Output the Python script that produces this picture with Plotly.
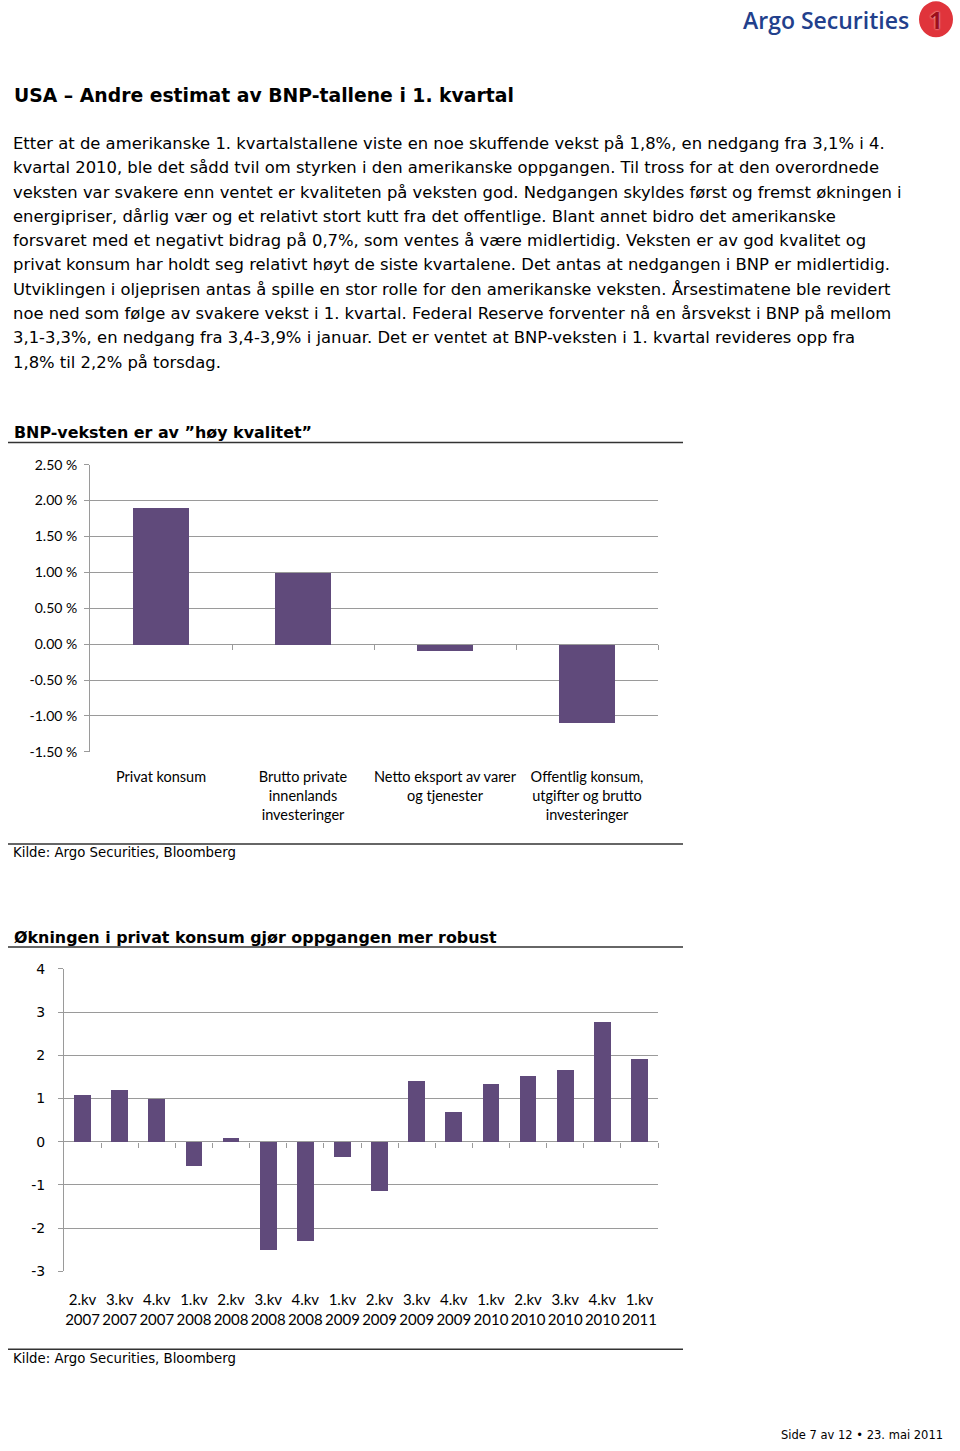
import plotly.graph_objects as go

W, H = 960, 1451

# --- data ---------------------------------------------------------------
komponenter = [
    "Privat konsum",
    "Brutto private<br>innenlands<br>investeringer",
    "Netto eksport av varer<br>og tjenester",
    "Offentlig konsum,<br>utgifter og brutto<br>investeringer",
]
bidrag = [1.90, 1.00, -0.09, -1.10]
bidrag_tickvals = [2.5, 2.0, 1.5, 1.0, 0.5, 0.0, -0.5, -1.0, -1.5]
bidrag_ticktext = ["2.50 %", "2.00 %", "1.50 %", "1.00 %", "0.50 %",
                   "0.00 %", "-0.50 %", "-1.00 %", "-1.50 %"]

kvartaler = [
    "2.kv<br>2007", "3.kv<br>2007", "4.kv<br>2007", "1.kv<br>2008",
    "2.kv<br>2008", "3.kv<br>2008", "4.kv<br>2008", "1.kv<br>2009",
    "2.kv<br>2009", "3.kv<br>2009", "4.kv<br>2009", "1.kv<br>2010",
    "2.kv<br>2010", "3.kv<br>2010", "4.kv<br>2010", "1.kv<br>2011",
]
konsum = [1.08, 1.20, 0.98, -0.56, 0.08, -2.50, -2.30, -0.36,
          -1.14, 1.40, 0.69, 1.33, 1.53, 1.66, 2.78, 1.91]
konsum_tickvals = [4, 3, 2, 1, 0, -1, -2, -3]
konsum_ticktext = ["4", "3", "2", "1", "0", "-1", "-2", "-3"]

tittel = "USA – Andre estimat av BNP-tallene i 1. kvartal"
brodtekst = [
    "Etter at de amerikanske 1. kvartalstallene viste en noe skuffende vekst på 1,8%, en nedgang fra 3,1% i 4.",
    "kvartal 2010, ble det sådd tvil om styrken i den amerikanske oppgangen. Til tross for at den overordnede",
    "veksten var svakere enn ventet er kvaliteten på veksten god. Nedgangen skyldes først og fremst økningen i",
    "energipriser, dårlig vær og et relativt stort kutt fra det offentlige. Blant annet bidro det amerikanske",
    "forsvaret med et negativt bidrag på 0,7%, som ventes å være midlertidig. Veksten er av god kvalitet og",
    "privat konsum har holdt seg relativt høyt de siste kvartalene. Det antas at nedgangen i BNP er midlertidig.",
    "Utviklingen i oljeprisen antas å spille en stor rolle for den amerikanske veksten. Årsestimatene ble revidert",
    "noe ned som følge av svakere vekst i 1. kvartal. Federal Reserve forventer nå en årsvekst i BNP på mellom",
    "3,1-3,3%, en nedgang fra 3,4-3,9% i januar. Det er ventet at BNP-veksten i 1. kvartal revideres opp fra",
    "1,8% til 2,2% på torsdag.",
]
kilde = "Kilde: Argo Securities, Bloomberg"

BAR = "#604a7b"
GRID = "#9a9a9a"
NARROW = "Liberation Sans Narrow, Lato, sans-serif"
VERDANA = "DejaVu Sans, Verdana, sans-serif"

# the photographed page comes out slightly squeezed vertically;
# these undo it so the layout lands on the page positions
Y0, KY = 8.7, 0.9876


def px(x):
    return x / W


def py(y):
    return 1 - ((y - Y0) / KY) / H


def zero_pos(dom, rng):
    return dom[0] + (0 - rng[0]) / (rng[1] - rng[0]) * (dom[1] - dom[0])


dom1_x = [px(90), px(658)]
dom1_y = [py(751), py(464)]
rng1 = [-1.5, 2.5]
dom2_x = [px(64), px(658)]
dom2_y = [py(1270), py(968)]
rng2 = [-3, 4]

fig = go.Figure()

fig.add_trace(go.Bar(x=list(range(len(bidrag))), y=bidrag, width=0.4,
                     marker=dict(color=BAR, line=dict(width=0)),
                     xaxis="x", yaxis="y", showlegend=False))
fig.add_trace(go.Bar(x=list(range(len(konsum))), y=konsum, width=0.45,
                     marker=dict(color=BAR, line=dict(width=0)),
                     xaxis="x2", yaxis="y2", showlegend=False))
# empty traces so the zero-line tick axes get drawn
fig.add_trace(go.Scatter(x=[], y=[], xaxis="x3", yaxis="y", showlegend=False))
fig.add_trace(go.Scatter(x=[], y=[], xaxis="x4", yaxis="y2", showlegend=False))

fig.update_layout(
    width=W, height=H,
    margin=dict(l=0, r=0, t=0, b=0),
    paper_bgcolor="white", plot_bgcolor="white",
    bargap=0,
    xaxis=dict(domain=dom1_x, anchor="y", range=[-0.5, len(bidrag) - 0.5],
               tickvals=list(range(len(bidrag))), ticktext=komponenter,
               showgrid=False, zeroline=False, showline=False, ticks="",
               ticklabelstandoff=15,
               tickfont=dict(family=NARROW, size=14.5, color="#000")),
    yaxis=dict(domain=dom1_y, anchor="x", range=rng1,
               tickvals=bidrag_tickvals, ticktext=bidrag_ticktext,
               showgrid=True, gridcolor=GRID, gridwidth=1,
               zeroline=False, showline=True, linecolor=GRID, linewidth=1,
               ticks="outside", ticklen=5, tickcolor=GRID,
               ticklabelstandoff=4,
               tickfont=dict(family=NARROW, size=14, color="#000")),
    xaxis3=dict(overlaying="x", anchor="free", position=zero_pos(dom1_y, rng1),
                range=[-0.5, len(bidrag) - 0.5],
                tickvals=[i + 0.5 for i in range(len(bidrag))],
                showticklabels=False, showgrid=False, zeroline=False,
                showline=False, ticks="outside", ticklen=5, tickcolor=GRID),
    xaxis2=dict(domain=dom2_x, anchor="y2", range=[-0.5, len(konsum) - 0.5],
                tickvals=list(range(len(konsum))), ticktext=kvartaler,
                showgrid=False, zeroline=False, showline=False, ticks="",
                ticklabelstandoff=18,
                tickfont=dict(family=NARROW, size=15, color="#000")),
    yaxis2=dict(domain=dom2_y, anchor="x2", range=rng2,
                tickvals=konsum_tickvals, ticktext=konsum_ticktext,
                showgrid=True, gridcolor=GRID, gridwidth=1,
                zeroline=False, showline=True, linecolor=GRID, linewidth=1,
                ticks="outside", ticklen=5, tickcolor=GRID,
                ticklabelstandoff=10,
                tickfont=dict(family=VERDANA, size=14, color="#000")),
    xaxis4=dict(overlaying="x2", anchor="free", position=zero_pos(dom2_y, rng2),
                range=[-0.5, len(konsum) - 0.5],
                tickvals=[i + 0.5 for i in range(len(konsum))],
                showticklabels=False, showgrid=False, zeroline=False,
                showline=False, ticks="outside", ticklen=5, tickcolor=GRID),
)

ann = []
ann.append(dict(text=tittel, x=px(12), y=py(95), xanchor="left", yanchor="middle",
                font=dict(family=VERDANA, size=18.8, color="#000", weight="bold")))
for i, line in enumerate(brodtekst):
    ann.append(dict(text=line, x=px(11), y=py(143 + i * 24.3), xanchor="left",
                    yanchor="middle", font=dict(family=VERDANA, size=16.4, color="#000")))

ann.append(dict(text="BNP-veksten er av ”høy kvalitet”", x=px(12), y=py(432),
                xanchor="left", yanchor="middle",
                font=dict(family=VERDANA, size=15.9, color="#000", weight="bold")))
ann.append(dict(text=kilde, x=px(11), y=py(852), xanchor="left", yanchor="middle",
                font=dict(family=VERDANA, size=13.3, color="#000")))
ann.append(dict(text="Økningen i privat konsum gjør oppgangen mer robust", x=px(12),
                y=py(937), xanchor="left", yanchor="middle",
                font=dict(family=VERDANA, size=15.9, color="#000", weight="bold")))
ann.append(dict(text=kilde, x=px(11), y=py(1357), xanchor="left", yanchor="middle",
                font=dict(family=VERDANA, size=13.3, color="#000")))
ann.append(dict(text="Side 7 av 12 • 23. mai 2011", x=px(944), y=0,
                xanchor="right", yanchor="bottom", borderpad=0,
                font=dict(family=VERDANA, size=11.5, color="#000")))
# logo
ann.append(dict(text="Argo Securities", x=px(911), y=py(20), xanchor="right",
                yanchor="middle",
                font=dict(family="Open Sans, sans-serif", size=23, color="#22408c",
                          weight=600)))
ann.append(dict(text="1", x=px(936), y=py(19), xanchor="center", yanchor="middle",
                font=dict(family="Open Sans, sans-serif", size=24, color="#9e0f1c",
                          weight="bold", shadow="0 0 2px white")))
for a in ann:
    a.update(xref="paper", yref="paper", showarrow=False)
fig.update_layout(annotations=ann)

shapes = []
for yline in (442, 843, 946, 1348):
    shapes.append(dict(type="line", xref="paper", yref="paper",
                       x0=px(8), x1=px(683), y0=py(yline), y1=py(yline),
                       line=dict(color="#333", width=1.5)))
shapes.append(dict(type="circle", xref="paper", yref="paper",
                   x0=px(919), x1=px(953), y0=py(37), y1=py(1),
                   fillcolor="#e0343b", line=dict(width=0), layer="below"))
fig.update_layout(shapes=shapes)

fig.write_html("out.html", post_script="document.body.style.margin='0';",
               config={"displayModeBar": False})
